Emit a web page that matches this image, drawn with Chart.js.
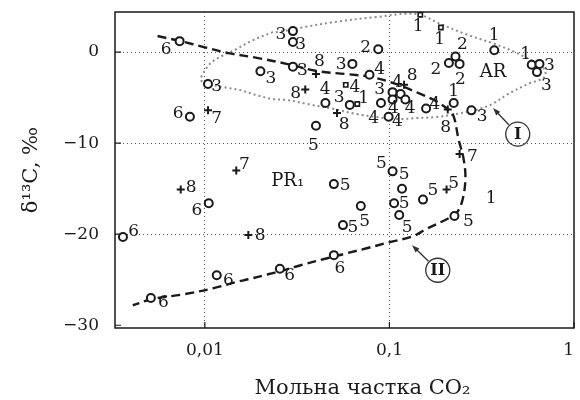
<!DOCTYPE html>
<html>
<head>
<meta charset="utf-8">
<script src="https://cdn.jsdelivr.net/npm/chart.js@4.4.1/dist/chart.umd.min.js"></script>
<style>
  body { margin: 0; background: #fff; }
  #wrap { width: 580px; height: 400px; }
</style>
</head>
<body>
<div id="wrap"><canvas id="co2Chart" width="580" height="400"></canvas></div>
<script>
// axis ticks
const xTicks = [0.01, 0.1, 1];
const xTickLabels = ['0,01', '0,1', '1'];
const yTicks = [0, -10, -20, -30];

// open circles
const circleX = [0.0073, 0.0104, 0.0083, 0.020, 0.030, 0.030, 0.030, 0.040, 0.045, 0.061, 0.063, 0.087, 0.078,
  0.104, 0.115, 0.104, 0.122, 0.090, 0.099, 0.158, 0.223, 0.278, 0.37, 0.21, 0.228, 0.24, 0.59, 0.65, 0.63,
  0.104, 0.117, 0.106, 0.113, 0.152, 0.225, 0.050, 0.070, 0.056, 0.050, 0.0255, 0.0116, 0.0051, 0.0036, 0.0105];
const circleY = [1.2, -3.5, -7.1, -2.1, 2.3, 1.1, -1.6, -8.1, -5.6, -5.8, -1.3, 0.3, -2.5,
  -4.4, -4.6, -5.2, -5.2, -5.6, -7.1, -6.2, -5.6, -6.4, 0.2, -1.2, -0.5, -1.3, -1.4, -1.3, -2.2,
  -13.1, -15.0, -16.6, -17.9, -16.2, -18.0, -14.5, -16.9, -19.0, -22.3, -23.8, -24.5, -27.0, -20.3, -16.6];

// small squares
const squareX = [0.147, 0.19, 0.058, 0.067];
const squareY = [4.1, 2.7, -3.6, -5.7];

// crosses
const plusX = [0.0104, 0.0148, 0.040, 0.035, 0.052, 0.120, 0.207, 0.24, 0.0074, 0.0172, 0.204];
const plusY = [-6.4, -13.0, -2.4, -4.1, -6.7, -3.6, -6.3, -11.2, -15.1, -20.1, -15.1];

// number labels next to the points
const labelX = [0.00618, 0.0116, 0.00717, 0.0116, 0.01636, 0.02282, 0.0258, 0.0330, 0.0338, 0.0417, 0.0310, 0.0388,
  0.0449, 0.0568, 0.0534, 0.0726, 0.0650, 0.0547, 0.0744, 0.0884, 0.0884, 0.1104, 0.1327, 0.1050, 0.1295, 0.0821,
  0.1104, 0.0906, 0.1203, 0.1203, 0.1249, 0.1429, 0.1874, 0.3688, 0.2487, 0.1784, 0.2427, 0.547, 0.735, 0.708,
  0.1762, 0.2226, 0.2017, 0.3182, 0.2812, 0.00842, 0.00906, 0.00412, 0.01994, 0.01343, 0.00596, 0.0575, 0.0634,
  0.0735, 0.0540, 0.0288, 0.1719, 0.2226, 0.2678, 0.3554];
const labelY = [0.22, -3.74, -6.70, -7.25, -12.31, -2.86, 1.87, 0.77, -1.98, -0.99, -4.51, -10.22,
  -4.07, -7.91, -4.95, -5.16, -3.85, -1.32, 0.44, -1.87, -4.07, -3.30, -2.53, -6.26, -6.26, -7.25,
  -7.58, -12.20, -13.41, -16.59, -19.23, 2.75, 1.32, 1.76, 0.77, -1.87, -2.97, -0.33, -1.43, -3.63,
  -5.82, -4.29, -8.24, -7.03, -11.43, -14.84, -17.36, -19.67, -20.11, -25.05, -27.47, -14.62, -19.23,
  -18.57, -23.74, -24.51, -15.16, -14.40, -18.57, -16.04];
const labelText = ['6', '3', '6', '7', '7', '3', '3', '3', '3', '8', '8', '5',
  '4', '8', '3', '1', '4', '3', '2', '4', '3', '4', '8', '4', '4', '4',
  '4', '5', '5', '5', '5', '1', '1', '1', '2', '2', '2', '1', '3', '3',
  '4', '1', '8', '3', '7', '8', '6', '6', '8', '6', '6', '5', '5',
  '5', '6', '6', '5', '5', '5', '1'];

// field names
const fieldX = [0.3643, 0.0281];
const fieldY = [-2.2, -14.18];
const fieldText = ['AR', 'PR₁'];

// circled trend numbers and where their arrows point
const romanX = [0.4956, 0.1828];
const romanY = [-9.01, -23.96];
const romanText = ['I', 'II'];
const arrowTipX = [0.3643, 0.1327];
const arrowTipY = [-6.15, -21.21];

// trend II (dashed)
const trend2X = [0.00554, 0.00735, 0.00988, 0.01343, 0.01945, 0.0281, 0.0407, 0.0589, 0.0801, 0.109, 0.1483, 0.1784,
  0.2068, 0.2226, 0.2367, 0.2518, 0.2581, 0.2487, 0.2310, 0.2096, 0.1577, 0.1344, 0.1, 0.0753, 0.0589, 0.0460,
  0.0330, 0.0255, 0.0220, 0.01717, 0.01465, 0.01117, 0.00772, 0.00514, 0.00407];
const trend2Y = [1.76, 1.21, 0.55, -0.11, -0.66, -1.32, -2.09, -2.42, -2.75, -3.52, -4.62, -5.38,
  -6.26, -7.03, -9.56, -11.65, -13.85, -16.26, -17.69, -18.24, -19.45, -20.22, -20.88, -21.54, -22.09, -22.64,
  -23.41, -24.07, -24.40, -24.95, -25.27, -25.93, -26.59, -27.14, -27.80];

// trend I (dotted loop)
const trend1X = [0.02339, 0.01828, 0.01483, 0.01264, 0.0109, 0.00988, 0.00952, 0.0105, 0.01264, 0.01558, 0.01897,
  0.02339, 0.0281, 0.0360, 0.0502, 0.0667, 0.0852, 0.1130, 0.1395, 0.1784, 0.2282, 0.2918, 0.3598, 0.4382,
  0.5608, 0.6913, 0.6913, 0.611, 0.4776, 0.3735, 0.2581, 0.1897, 0.1395, 0.0852, 0.0502, 0.0347, 0.02487, 0.02339];
const trend1Y = [2.20, 1.32, 0.33, -0.33, -1.10, -2.20, -3.08, -3.52, -3.85, -4.18, -4.73,
  -5.16, -5.27, -5.71, -6.26, -6.81, -7.14, -7.36, -7.25, -7.14, -6.81, -6.37, -5.71, -4.62,
  -3.52, -2.75, -1.87, -1.10, 0, 0.88, 1.98, 3.08, 4.18, 3.85, 3.30, 2.75, 2.20, 2.20];

const xTitle = 'Мольна частка CO₂';
const yTitle = 'δ¹³C, ‰';

const serif = "'DejaVu Serif', 'Liberation Serif', serif";
const ink = '#1a1a1a';

function toPoints(xs, ys) {
  return xs.map((x, i) => ({ x: x, y: ys[i] }));
}

function sameValue(a, b) {
  return Math.abs(Math.log10(Math.abs(a)) - Math.log10(Math.abs(b))) < 1e-6;
}

// frame, inward ticks, text labels, circled numbers, arrows
const decorPlugin = {
  id: 'decor',
  afterDatasetsDraw(chart) {
    const { ctx, chartArea: a } = chart;
    const x = chart.scales.x, y = chart.scales.y;
    ctx.save();

    ctx.strokeStyle = ink;
    ctx.lineWidth = 1.5;
    ctx.strokeRect(a.left, a.top, a.right - a.left, a.bottom - a.top);

    ctx.lineWidth = 1.2;
    ctx.beginPath();
    xTicks.forEach(v => {
      const px = x.getPixelForValue(v);
      ctx.moveTo(px, a.bottom); ctx.lineTo(px, a.bottom - 6);
    });
    yTicks.forEach(v => {
      const py = y.getPixelForValue(v);
      ctx.moveTo(a.left, py); ctx.lineTo(a.left + 6, py);
    });
    ctx.stroke();

    ctx.fillStyle = ink;
    ctx.textAlign = 'center';
    ctx.textBaseline = 'middle';
    ctx.font = '17px ' + serif;
    labelText.forEach((t, i) => {
      ctx.fillText(t, x.getPixelForValue(labelX[i]), y.getPixelForValue(labelY[i]));
    });

    ctx.font = '18px ' + serif;
    fieldText.forEach((t, i) => {
      ctx.fillText(t, x.getPixelForValue(fieldX[i]), y.getPixelForValue(fieldY[i]));
    });

    // x axis title sits a bit right of the axis centre in the original
    ctx.font = '21px ' + serif;
    ctx.fillText(xTitle, (a.left + a.right) / 2 + 18, chart.height - 11);

    // circled numbers with arrows
    const r = 12;
    romanText.forEach((t, i) => {
      const cx = x.getPixelForValue(romanX[i]);
      const cy = y.getPixelForValue(romanY[i]);
      ctx.strokeStyle = '#333';
      ctx.lineWidth = 1.3;
      ctx.beginPath();
      ctx.arc(cx, cy, r, 0, Math.PI * 2);
      ctx.stroke();
      ctx.font = 'bold 16px ' + serif;
      ctx.fillText(t, cx, cy + 1);

      const tx = x.getPixelForValue(arrowTipX[i]);
      const ty = y.getPixelForValue(arrowTipY[i]);
      const ang = Math.atan2(ty - cy, tx - cx);
      const sx = cx + Math.cos(ang) * (r + 1);
      const sy = cy + Math.sin(ang) * (r + 1);
      ctx.beginPath();
      ctx.moveTo(sx, sy);
      ctx.lineTo(tx - Math.cos(ang) * 5, ty - Math.sin(ang) * 5);
      ctx.stroke();
      ctx.beginPath();
      ctx.moveTo(tx, ty);
      ctx.lineTo(tx - Math.cos(ang - 0.35) * 8, ty - Math.sin(ang - 0.35) * 8);
      ctx.lineTo(tx - Math.cos(ang + 0.35) * 8, ty - Math.sin(ang + 0.35) * 8);
      ctx.closePath();
      ctx.fillStyle = '#333';
      ctx.fill();
      ctx.fillStyle = ink;
    });

    ctx.restore();
  }
};

const ctx = document.getElementById('co2Chart').getContext('2d');

new Chart(ctx, {
  type: 'scatter',
  data: {
    datasets: [
      {
        data: toPoints(circleX, circleY),
        pointStyle: 'circle',
        pointRadius: 4,
        pointBorderWidth: 2,
        pointBorderColor: ink,
        pointBackgroundColor: '#fff',
        order: 0
      },
      {
        data: toPoints(squareX, squareY),
        pointStyle: 'rect',
        pointRadius: 3,
        pointBorderWidth: 1.6,
        pointBorderColor: ink,
        pointBackgroundColor: '#fff',
        order: 0
      },
      {
        data: toPoints(plusX, plusY),
        pointStyle: 'cross',
        pointRadius: 4,
        pointBorderWidth: 2,
        pointBorderColor: ink,
        order: 0
      },
      {
        data: toPoints(trend2X, trend2Y),
        showLine: true,
        borderColor: ink,
        borderWidth: 2.4,
        borderDash: [9, 5],
        pointRadius: 0,
        tension: 0.35,
        order: 2
      },
      {
        data: toPoints(trend1X, trend1Y),
        showLine: true,
        borderColor: '#8c8c8c',
        borderWidth: 2,
        borderDash: [2, 3],
        pointRadius: 0,
        tension: 0.35,
        order: 3
      }
    ]
  },
  options: {
    responsive: false,
    animation: false,
    layout: { padding: { top: 12, right: 1, left: 0, bottom: 0 } },
    plugins: {
      legend: { display: false },
      tooltip: { enabled: false }
    },
    scales: {
      x: {
        type: 'logarithmic',
        min: 0.00326,
        max: 1,
        border: { display: false, dash: [1, 3] },
        grid: {
          drawTicks: false,
          lineWidth: 1,
          color: (c) => (c.tick && (sameValue(c.tick.value, 0.01) || sameValue(c.tick.value, 0.1))) ? '#555' : 'rgba(0,0,0,0)'
        },
        ticks: {
          autoSkip: false,
          maxRotation: 0,
          align: 'inner',
          padding: 12,
          color: ink,
          font: { family: serif, size: 17 },
          callback: function (value) {
            const k = xTicks.findIndex(t => sameValue(value, t));
            return k >= 0 ? xTickLabels[k] : '';
          }
        },
        title: { display: false },
        afterFit: (scale) => {
          scale.height = 72;
          scale.paddingLeft = 0;
          scale.paddingRight = 0;
        }
      },
      y: {
        min: -30.3,
        max: 4.4,
        border: { display: false, dash: [1, 3] },
        grid: {
          drawTicks: false,
          lineWidth: 1,
          color: (c) => (c.tick && c.tick.value > -25 && c.tick.value < 1) ? '#555' : 'rgba(0,0,0,0)'
        },
        ticks: {
          stepSize: 10,
          includeBounds: false,
          padding: 16,
          color: ink,
          font: { family: serif, size: 17 },
          callback: (v) => v < 0 ? '\u2212' + Math.abs(v) : String(v)
        },
        title: {
          display: true,
          text: yTitle,
          color: ink,
          font: { family: serif, size: 21, lineHeight: 1 },
          padding: { top: 21, bottom: 0 }
        },
        afterFit: (scale) => {
          scale.width = 115;
          scale.paddingTop = 0;
          scale.paddingBottom = 0;
        }
      }
    }
  },
  plugins: [decorPlugin]
});
</script>
</body>
</html>
